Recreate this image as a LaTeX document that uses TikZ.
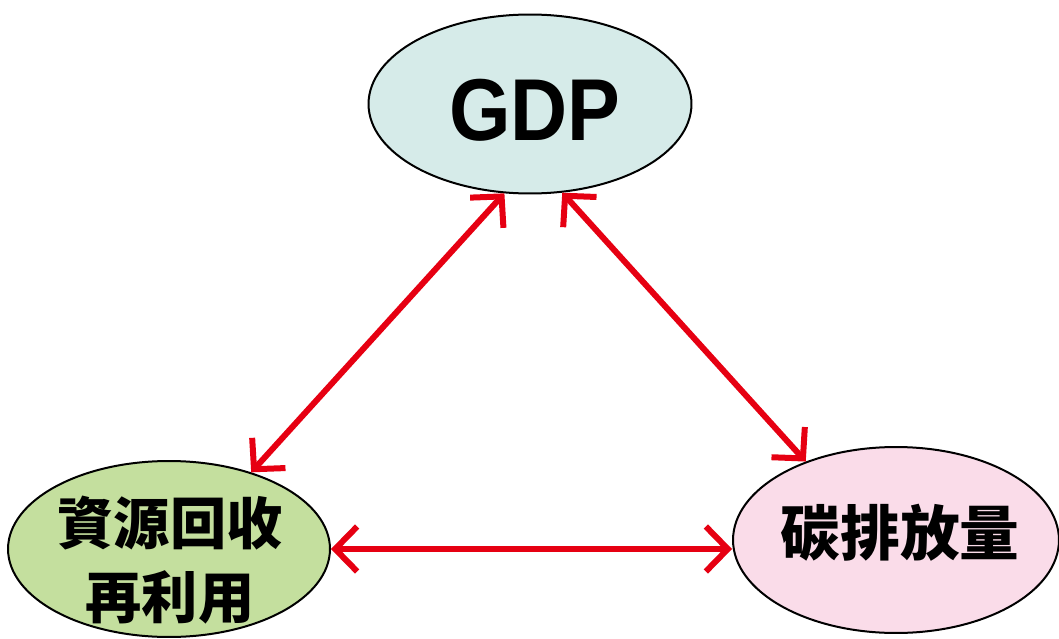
\documentclass[tikz,border=0pt]{standalone}
\usepackage{fontspec}
\setmainfont{Liberation Sans}
\newfontfamily\cjk{Noto Sans CJK TC}
\newfontfamily\gdpfont{Liberation Sans}[FakeStretch=0.9]
\usetikzlibrary{shapes.geometric,arrows.meta}
\definecolor{gdpfill}{RGB}{214,235,233}
\definecolor{reusefill}{RGB}{196,223,158}
\definecolor{carbonfill}{RGB}{250,220,233}
\definecolor{arrowred}{RGB}{230,0,18}

\begin{document}
\begin{tikzpicture}[x=0.02cm,y=-0.02cm,
				bubble/.style={ellipse,draw=black,line width=0.04cm,inner sep=0pt},
				word/.style={text=black,align=center,inner sep=0pt},
				link/.style={draw=arrowred,line width=0.12cm,{Straight Barb[length=0.44cm,width=0.9cm,sharp]}-{Straight Barb[length=0.44cm,width=0.9cm,sharp]}}]
				\useasboundingbox (0,0) rectangle (1059,639);
				\node (GDP)    [bubble,fill=gdpfill,minimum width=6.46cm,minimum height=3.58cm]    at (530,104) {};
				\node (REUSE)  [bubble,fill=reusefill,minimum width=6.44cm,minimum height=3.52cm]  at (169,549) {};
				\node (CARBON) [bubble,fill=carbonfill,minimum width=6.52cm,minimum height=3.72cm] at (896,540) {};
				\node (GDPTXT)    [word,font=\gdpfont\bfseries\fontsize{50pt}{50pt}\selectfont] at (535,110) {GDP};
				\node (REUSETXT)  [word,font=\cjk\bfseries\fontsize{32pt}{42pt}\selectfont] at (170,560) {資源回收\\再利用};
				\node (CARBONTXT) [word,font=\cjk\bfseries\fontsize{34pt}{34pt}\selectfont] at (900,533) {碳排放量};
				
				\draw[link] (GDP.254) -- (REUSE.43);
				\draw[link] (GDP.290) -- (CARBON.139);
				\draw[link] (REUSE.east) -- (REUSE.east -| CARBON.west);
			\end{tikzpicture}
\end{document}
